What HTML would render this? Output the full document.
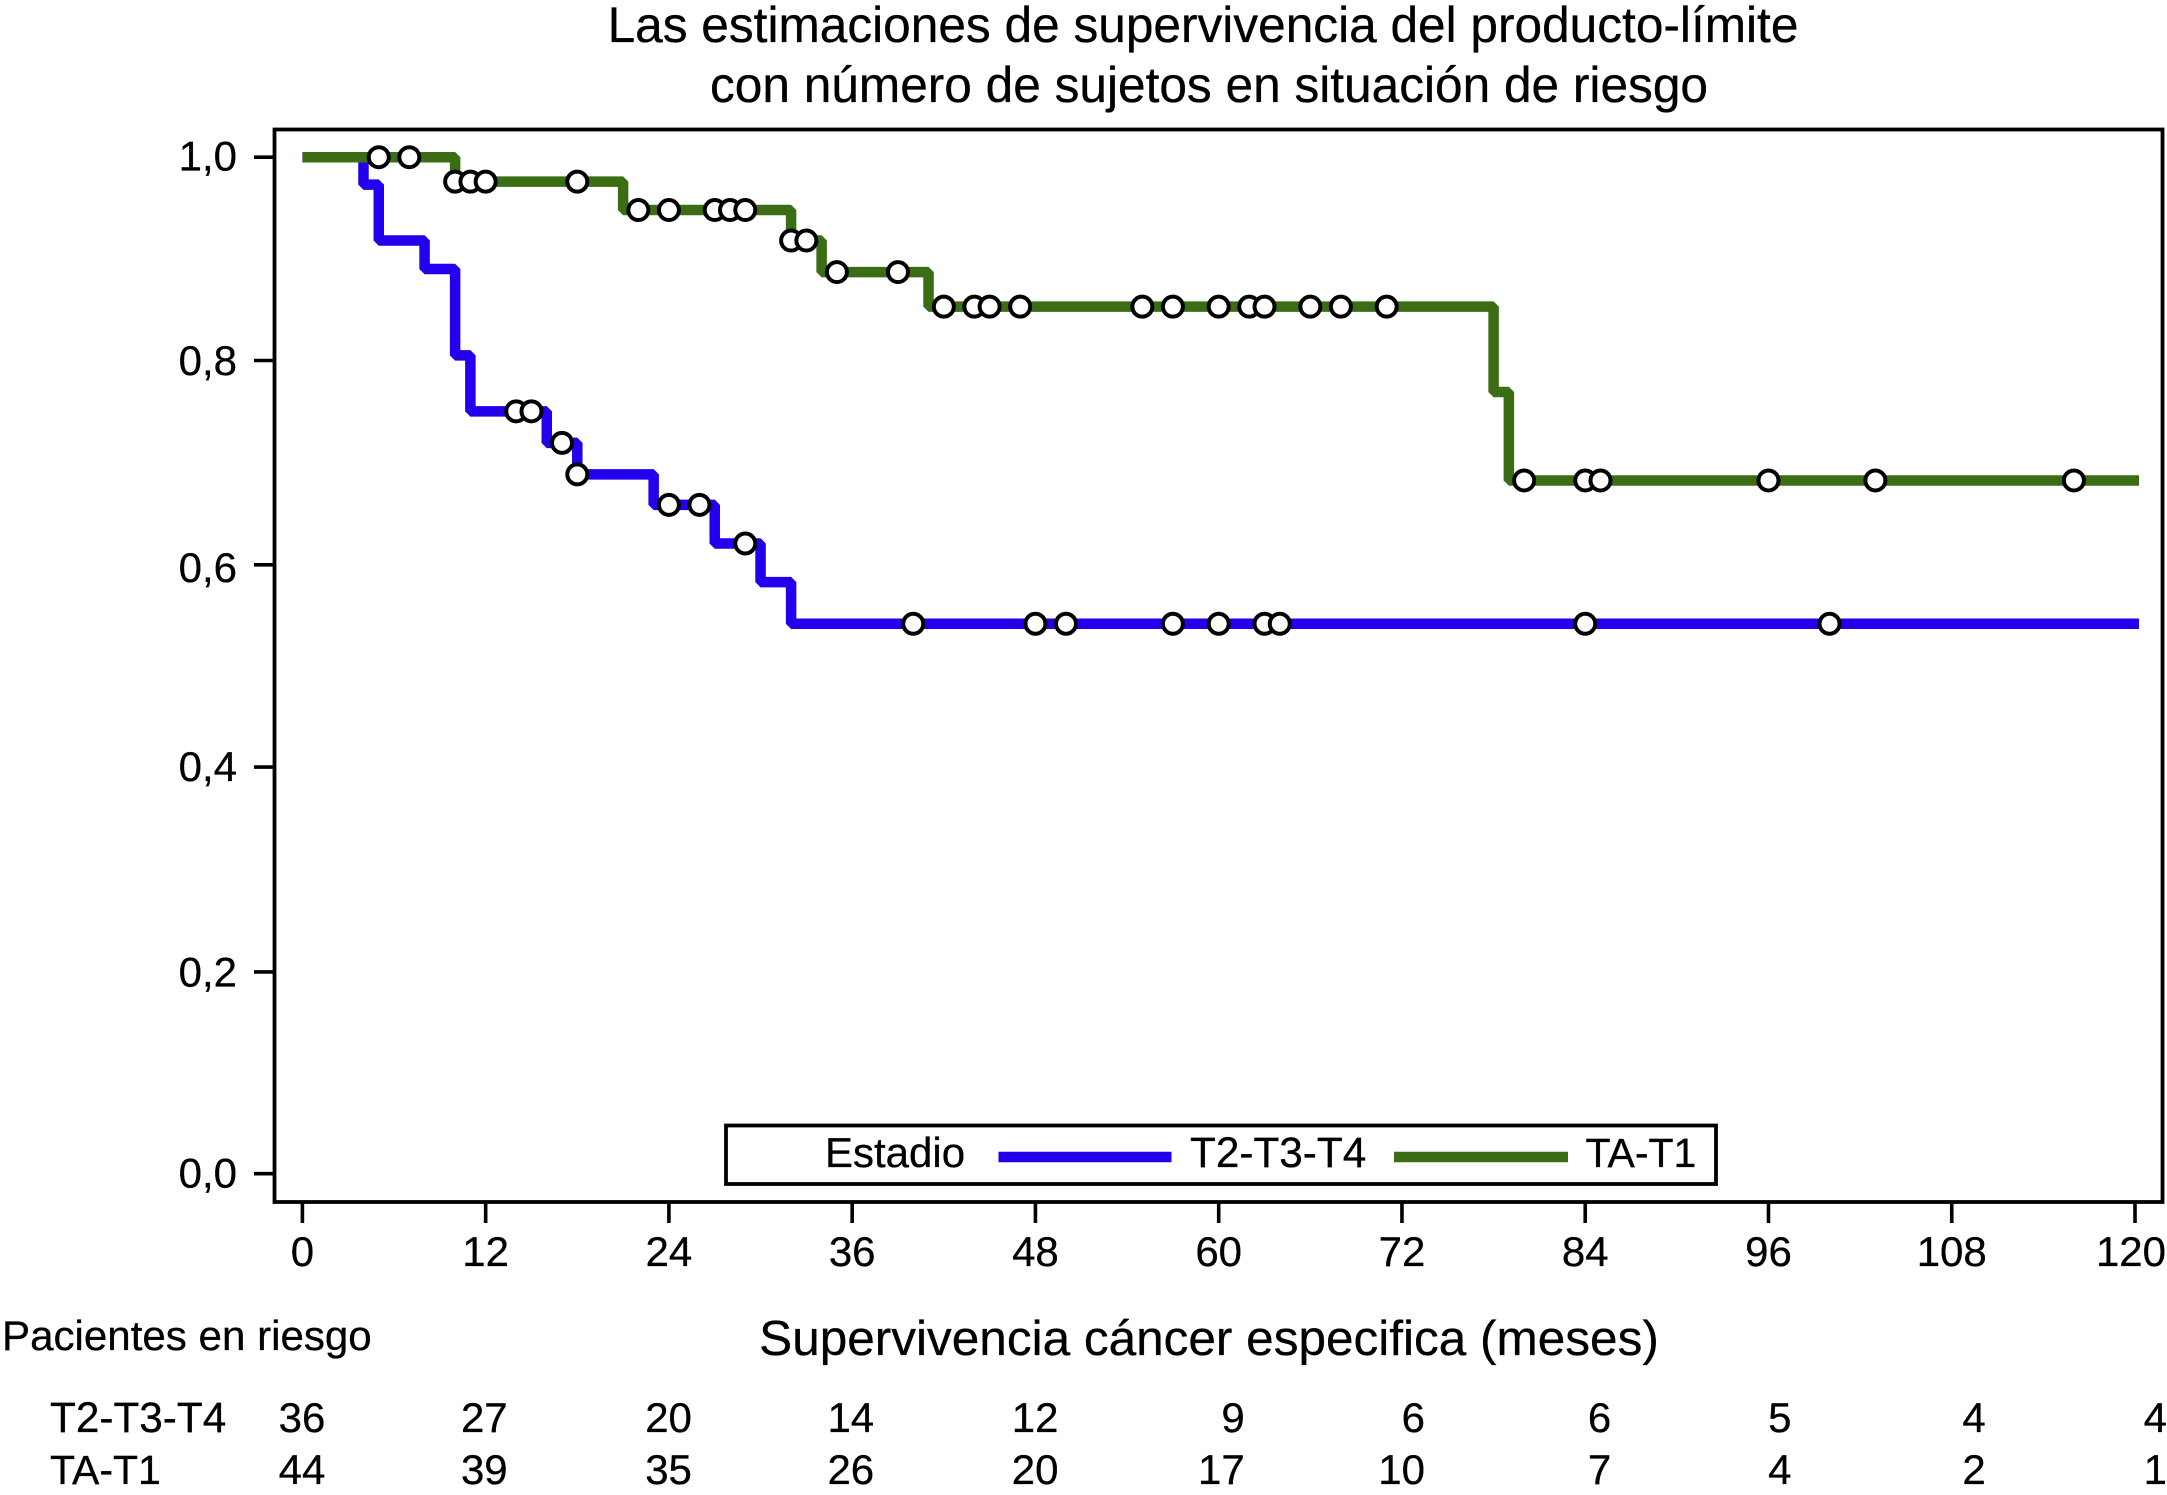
<!DOCTYPE html>
<html lang="es">
<head>
<meta charset="utf-8">
<title>Las estimaciones de supervivencia del producto-límite</title>
<style>
  html, body { margin: 0; padding: 0; background: #fff; }
  svg { display: block; }
  text { font-family: "Liberation Sans", Arial, sans-serif; fill: #000; stroke: #000; stroke-width: 0.3px; }
</style>
</head>
<body>
<svg id="chart" xmlns="http://www.w3.org/2000/svg" width="2167" height="1495" viewBox="0 0 2167 1495">
  <rect x="0" y="0" width="2167" height="1495" fill="#fff"/>
  <text x="1203" y="42" font-size="49.6" text-anchor="middle">Las estimaciones de supervivencia del producto-límite</text>
  <text x="1209" y="102" font-size="49.6" text-anchor="middle">con número de sujetos en situación de riesgo</text>
  <rect x="274.5" y="129.5" width="1888" height="1072.5" fill="#fff" stroke="#000" stroke-width="3.8"/>
  <g id="axes"></g>
  <g id="series"></g>
  <g id="censors"></g>
  <g>
    <rect x="726" y="1125.5" width="990" height="58.5" fill="#fff" stroke="#000" stroke-width="3.8"/>
    <text x="825" y="1167" font-size="42">Estadio</text>
    <line x1="998.5" x2="1171.5" y1="1157" y2="1157" stroke="#2200ee" stroke-width="10.5"/>
    <text x="1190" y="1167" font-size="42.3">T2-T3-T4</text>
    <line x1="1394" x2="1568" y1="1157" y2="1157" stroke="#3b6d14" stroke-width="10.5"/>
    <text x="1585.5" y="1167" font-size="41">TA-T1</text>
  </g>
  <text x="1209" y="1355" font-size="49.5" text-anchor="middle">Supervivencia cáncer especifica (meses)</text>
  <text x="2" y="1350" font-size="42.1">Pacientes en riesgo</text>
  <g id="risk"></g>
</svg>
<script>
// ---- data ----
const xTicks = [0, 12, 24, 36, 48, 60, 72, 84, 96, 108, 120];
const yTicks = [0, 0.2, 0.4, 0.6, 0.8, 1.0];
const yTickLabels = ['0,0', '0,2', '0,4', '0,6', '0,8', '1,0'];

const blueDropTimes = [4, 5, 8, 10, 11, 16, 18, 23, 27, 30, 32];
const blueLevels = [0.973, 0.918, 0.890, 0.805, 0.750, 0.719, 0.688, 0.658, 0.620, 0.582, 0.541];
const blueCensorTimes = [14, 15, 17, 18, 24, 26, 29, 40, 48, 50, 57, 60, 63, 64, 84, 100];

const greenDropTimes = [10, 21, 32, 34, 41, 78, 79];
const greenLevels = [0.976, 0.948, 0.918, 0.887, 0.853, 0.769, 0.682];
const greenCensorTimes = [5, 7, 10, 11, 12, 18, 22, 24, 27, 28, 29, 32, 33, 35, 39, 42, 44, 45, 47, 55, 57, 60, 62, 63, 66, 68, 71, 80, 84, 85, 96, 103, 116];

const riskBlue = [36, 27, 20, 14, 12, 9, 6, 6, 5, 4, 4];
const riskGreen = [44, 39, 35, 26, 20, 17, 10, 7, 4, 2, 1];

// ---- axis functions ----
const NS = 'http://www.w3.org/2000/svg';
const xOrigin = 302.4, xPerMonth = (2135 - 302.4) / 120;
const yZero = 1173.7, yOne = 157.2;
function xScale(t) { return xOrigin + t * xPerMonth; }
function yScale(s) { return yZero + s * (yOne - yZero); }
function levelAt(t, drops, levels) {
  let s = 1;
  drops.forEach(function (d, i) { if (t >= d) s = levels[i]; });
  return s;
}
function stepPath(drops, levels) {
  let d = 'M' + xScale(0) + ' ' + yScale(1);
  let s = 1;
  drops.forEach(function (t, i) {
    d += ' L' + xScale(t) + ' ' + yScale(s);
    s = levels[i];
    d += ' L' + xScale(t) + ' ' + yScale(s);
  });
  d += ' L' + (xScale(120) + 4) + ' ' + yScale(s);
  return d;
}
function make(tag, parent, attrs) {
  const el = document.createElementNS(NS, tag);
  Object.keys(attrs).forEach(function (k) { el.setAttribute(k, attrs[k]); });
  parent.appendChild(el);
  return el;
}

// ---- axes ----
const axes = document.getElementById('axes');
xTicks.forEach(function (t, i) {
  const tick = make('line', axes, { x1: xScale(t), x2: xScale(t), y1: 1202, y2: 1223, stroke: '#000', 'stroke-width': 3.6 });
  
  
  const isLast = i === xTicks.length - 1;
  const label = make('text', axes, { x: xScale(t) - (isLast ? 4 : 0), y: 1266, 'font-size': 42, 'text-anchor': 'middle' });
  label.textContent = String(t);
  
  
});
const yTickNudge = [0, 1.5, 0, 1, 0, 0];
const yLabelOffset = [14, 16, 14, 18, 14.5, 13.5];
yTicks.forEach(function (v, i) {
  const ty = yScale(v) + yTickNudge[i];
  const tick = make('line', axes, { x1: 254, x2: 274.5, y1: ty, y2: ty, stroke: '#000', 'stroke-width': 3.6 });
  
  
  const label = make('text', axes, { x: 237, y: yScale(v) + yLabelOffset[i], 'font-size': 42, 'text-anchor': 'end' });
  label.textContent = yTickLabels[i];
  
  
});

// ---- curves ----
const series = document.getElementById('series');
const bluePath = make('path', series, { d: stepPath(blueDropTimes, blueLevels), fill: 'none', stroke: '#2200ee', 'stroke-width': 10.5, 'stroke-linejoin': 'bevel' });


const greenPath = make('path', series, { d: stepPath(greenDropTimes, greenLevels), fill: 'none', stroke: '#3b6d14', 'stroke-width': 10.5, 'stroke-linejoin': 'bevel' });



// ---- censor markers ----
const censors = document.getElementById('censors');
blueCensorTimes.forEach(function (t) {
  const c = make('circle', censors, { cx: xScale(t), cy: yScale(levelAt(t, blueDropTimes, blueLevels)), r: 10, fill: '#fff', stroke: '#000', 'stroke-width': 4 });
  
  
});
greenCensorTimes.forEach(function (t) {
  const c = make('circle', censors, { cx: xScale(t), cy: yScale(levelAt(t, greenDropTimes, greenLevels)), r: 10, fill: '#fff', stroke: '#000', 'stroke-width': 4 });
  
  
});

// ---- risk table ----
const risk = document.getElementById('risk');
const riskEdgeOffset = [23, 22, 23, 22, 23, 26, 23, 26, 23, 34, 32];
function riskRow(name, values, baseline, key, headSize) {
  const head = make('text', risk, { x: 50, y: baseline, 'font-size': headSize });
  head.textContent = name;
  
  
  values.forEach(function (v, i) {
    const cell = make('text', risk, { x: xScale(xTicks[i]) + riskEdgeOffset[i], y: baseline, 'font-size': 42, 'text-anchor': 'end' });
    cell.textContent = String(v);
    
    
  });
}
riskRow('T2-T3-T4', riskBlue, 1432, 't2-t3-t4', 42.3);
riskRow('TA-T1', riskGreen, 1484, 'ta-t1', 41);
</script>
</body>
</html>
